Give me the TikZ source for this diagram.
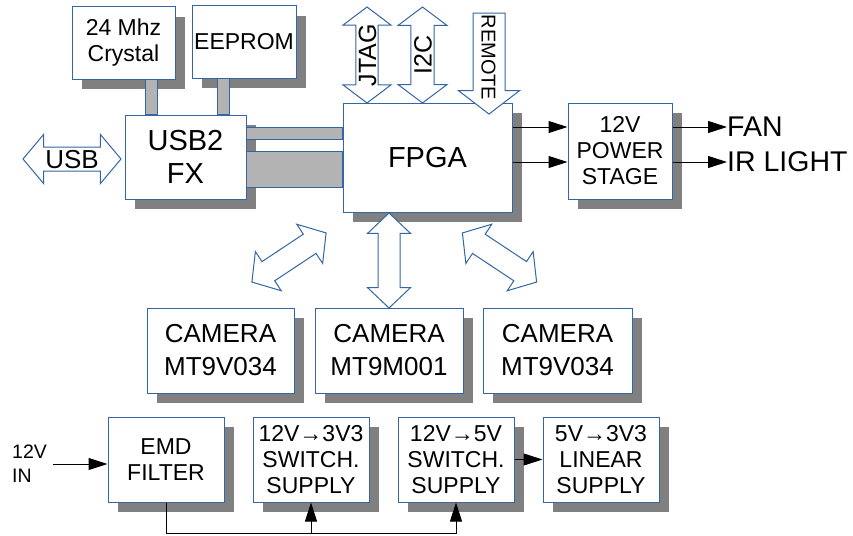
\documentclass[tikz,border=0pt]{standalone}
\usepackage{fontspec}
\setmainfont{Liberation Sans}
\usepackage{tikz}
\usetikzlibrary{shapes.arrows, shadows, arrows.meta, calc}
\definecolor{lineblue}{RGB}{52,101,164}
\definecolor{shadegray}{RGB}{128,128,128}
\definecolor{busgray}{RGB}{179,179,179}
\tikzstyle{link} = [line width=1pt, -{Triangle[length=19pt, width=12pt]}]

\begin{document}
\begin{tikzpicture}[
  x=1pt, y=-1pt,
  block/.style={rectangle, draw=lineblue, fill=white, line width=1pt, align=center, inner sep=0pt,
    drop shadow={shadow xshift=10pt, shadow yshift=-10pt, fill=shadegray, opacity=1}},
  bus/.style={draw=lineblue, fill=busgray, line width=1pt},
  twoway/.style={double arrow, draw=lineblue, fill=white, line width=1pt, inner xsep=1pt,
    text depth=0pt, double arrow head extend=12.5pt, double arrow tip angle=100},
  oneway/.style={single arrow, draw=lineblue, fill=white, line width=1pt, inner xsep=1pt,
    text depth=0pt, single arrow head extend=14.5pt, single arrow tip angle=105},
  fbig/.style={font=\fontsize{29}{33}\selectfont},
  fcam/.style={font=\fontsize{26}{33}\selectfont},
  fmid/.style={font=\fontsize{23}{26}\selectfont},
  tag/.style={inner sep=0pt, font=\fontsize{28.5}{30}\selectfont}
]
\useasboundingbox (0,0) rectangle (853,535);

% USB controller and its parts
\node[block, fmid, minimum width=103pt, minimum height=72pt] (xtal) at (123.5,43) {24 Mhz\\Crystal};
\node[block, fmid, minimum width=104pt, minimum height=72pt] (eeprom) at (244,42) {EEPROM};
\node[block, fbig, minimum width=121pt, minimum height=84pt] (usb2) at (185.5,157) {USB2\\FX};
\node[block, fbig, minimum width=169pt, minimum height=109pt] (fpga) at (427.5,157.5) {FPGA};
\node[block, fmid, minimum width=104pt, minimum height=96pt] (power) at (620,151) {12V\\POWER\\STAGE};

% Buses
\draw[bus] ([xshift=21.5pt]xtal.south) rectangle ([xshift=33.5pt]xtal.south |- usb2.north);
\draw[bus] ([xshift=-27pt]eeprom.south) rectangle ([xshift=-15pt]eeprom.south |- usb2.north);
\draw[bus] ($(usb2.east)+(0,-30)$) rectangle ($(fpga.west)+(0,-18.5)$);
\draw[bus] ($(usb2.east)+(0,-6)$) rectangle ($(fpga.west)+(0,29.5)$);

% External interfaces
\node[twoway, minimum height=98pt, minimum width=48pt, text height=19pt, inner ysep=2pt,
  font=\fontsize{26}{28}\selectfont] (usb) at (72,159) {USB};
\node[twoway, rotate=90, minimum height=96pt, minimum width=48pt, text height=18pt, inner ysep=1.5pt,
  double arrow tip angle=106, font=\fontsize{25}{27}\selectfont] (jtag) at (367,55) {JTAG};
\node[twoway, rotate=90, minimum height=96pt, minimum width=49pt, text height=18pt, inner ysep=2pt,
  double arrow tip angle=106, font=\fontsize{25}{27}\selectfont] (i2c) at (422.5,55) {I2C};
\node[oneway, rotate=-90, minimum height=91pt, minimum width=60pt, text height=15pt, inner ysep=8pt,
  font=\fontsize{20}{22}\selectfont] (remote) at (489,57.5) {REMOTE};

% Outputs of the power stage
\node[tag, anchor=west] (fan) at (727,127) {FAN};
\node[tag, anchor=west] (ir) at (727,162) {IR LIGHT};
\draw[link] (fan -| fpga.east) -- (fan -| power.west);
\draw[link] (ir -| fpga.east) -- (ir -| power.west);
\draw[link] (fan -| power.east) -- (fan.west);
\draw[link] (ir -| power.east) -- (ir.west);

% Cameras
\node[block, fcam, minimum width=147pt, minimum height=85pt] (camleft) at (220.5,350.5) {CAMERA\\MT9V034};
\node[block, fcam, minimum width=148pt, minimum height=85pt] (cammid) at (389,350.5) {CAMERA\\MT9M001};
\node[block, fcam, minimum width=149pt, minimum height=85pt] (camright) at (557.5,350.5) {CAMERA\\MT9V034};
\node[twoway, rotate=33.5, minimum height=89pt, minimum width=46pt, text height=0pt, inner ysep=11pt,
  double arrow head extend=12pt] (linkleft) at (289,257.5) {};
\node[twoway, rotate=90, minimum height=95pt, minimum width=42pt, text height=0pt, inner ysep=10.5pt,
  double arrow head extend=10.5pt, double arrow tip angle=93] (linkmid) at (389,260.5) {};
\node[twoway, rotate=-33.5, minimum height=89pt, minimum width=46pt, text height=0pt, inner ysep=11pt,
  double arrow head extend=12pt] (linkright) at (499.5,257.5) {};

% Power supply chain
\node[block, fmid, minimum width=116pt, minimum height=85pt] (emd) at (166,459.5) {EMD\\FILTER};
\node[block, fmid, minimum width=116pt, minimum height=85pt] (sw33) at (311,459.5) {12V→3V3\\SWITCH.\\SUPPLY};
\node[block, fmid, minimum width=116pt, minimum height=85pt] (sw5) at (456,459.5) {12V→5V\\SWITCH.\\SUPPLY};
\node[block, fmid, minimum width=116pt, minimum height=85pt] (lin33) at (601,459.5) {5V→3V3\\LINEAR\\SUPPLY};
\node[inner sep=0pt, align=left, anchor=west, font=\fontsize{19.5}{24}\selectfont] (vin) at (12,464) {12V\\IN};
\draw[link] ([xshift=6pt]vin.east) -- (vin.east -| emd.west);
\coordinate (feed) at ($(emd.south)+(0,31)$);
\draw[line width=1pt] (emd.south) -- (feed) -- (feed -| sw5.south);
\draw[link] (feed -| sw33.south) -- (sw33.south);
\draw[link] (feed -| sw5.south) -- (sw5.south);
\draw[link] (sw5) -- (lin33);

\end{tikzpicture}
\end{document}
